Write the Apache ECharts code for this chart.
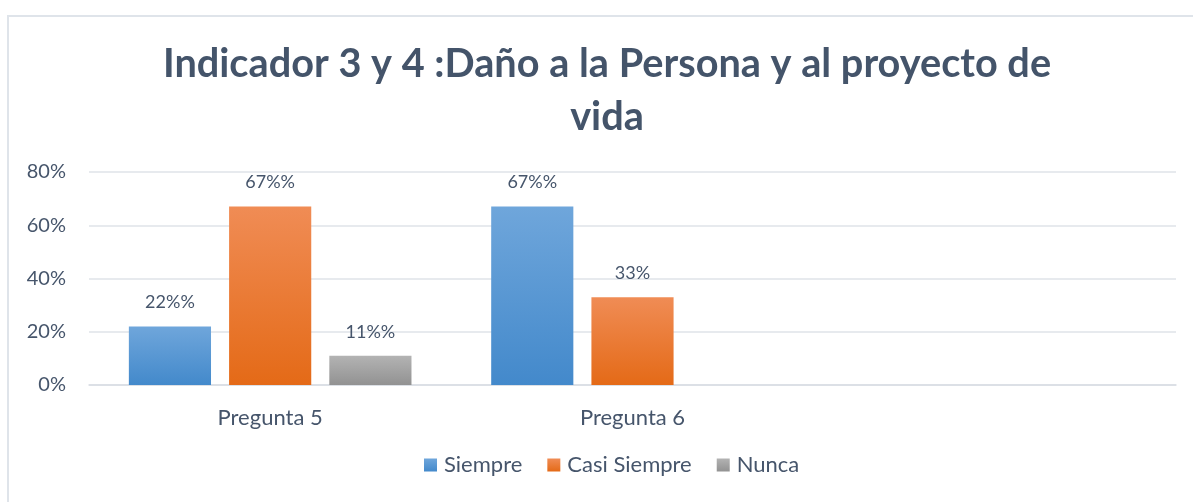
<!DOCTYPE html>
<html>
<head>
<meta charset="utf-8">
<script src="https://cdn.jsdelivr.net/npm/echarts@6/dist/echarts.min.js"></script>
<style>
  html, body { margin: 0; padding: 0; background: #fff; }
  #chart { width: 1193px; height: 502px; }
</style>
</head>
<body>
<div id="chart"></div>
<script>
const categories = ["Pregunta 5", "Pregunta 6", ""];
const siempre = [22, 67, null];
const casiSiempre = [67, 33, null];
const nunca = [11, null, null];
const siempreLabels = ["22%%", "67%%", ""];
const casiSiempreLabels = ["67%%", "33%", ""];
const nuncaLabels = ["11%%", "", ""];
const yTicks = [0, 20, 40, 60, 80];

const textColor = "#46556b";
const fontFamily = "Lato, 'Open Sans', sans-serif";

const grad = (top, bottom) =>
  new echarts.graphic.LinearGradient(0, 0, 0, 1, [
    { offset: 0, color: top },
    { offset: 1, color: bottom },
  ]);

const makeSeries = (name, data, labels, color) => ({
  name,
  type: "bar",
  data,
  barGap: "22%",
  barCategoryGap: "22%",
  itemStyle: { color },
  label: {
    show: true,
    position: "top",
    distance: 15,
    color: textColor,
    fontSize: 18,
    fontFamily,
    formatter: (p) => labels[p.dataIndex],
  },
});

const chart = echarts.init(document.getElementById("chart"));

chart.setOption({
  backgroundColor: "#fff",
  animation: false,
  graphic: [
    {
      type: "rect",
      shape: { x: 8, y: 16, width: 1400, height: 700 },
      style: { fill: "none", stroke: "#dfe4ea", lineWidth: 2 },
      silent: true,
    },
  ],
  title: {
    text: "Indicador 3 y 4 :Daño a la Persona y al proyecto de\nvida",
    left: 602,
    top: 33,
    textAlign: "center",
    textStyle: {
      color: "#44546a",
      fontSize: 39.7,
      fontWeight: "bold",
      fontFamily,
      lineHeight: 53,
    },
  },
  legend: {
    bottom: 21,
    left: 419,
    icon: "rect",
    itemWidth: 13,
    itemHeight: 13,
    itemGap: 25,
    itemStyle: { borderWidth: 0 },
    textStyle: { color: textColor, fontSize: 22, fontFamily, padding: [0, 0, 0, 2] },
    data: ["Siempre", "Casi Siempre", "Nunca"],
  },
  grid: {
    left: 89,
    right: 17,
    top: 172,
    bottom: 117,
  },
  xAxis: {
    type: "category",
    data: categories,
    axisLine: { lineStyle: { color: "#d9dde3", width: 1.5 } },
    axisTick: { show: false },
    axisLabel: { color: textColor, fontSize: 22, fontFamily, margin: 22 },
  },
  yAxis: {
    type: "value",
    min: yTicks[0],
    max: yTicks[yTicks.length - 1],
    interval: yTicks[1] - yTicks[0],
    axisLine: { show: false },
    axisTick: { show: false },
    splitLine: { lineStyle: { color: "#dfe3e8", width: 1.5 } },
    axisLabel: {
      color: textColor,
      fontSize: 20,
      fontFamily,
      margin: 23,
      formatter: "{value}%",
    },
  },
  series: [
    makeSeries("Siempre", siempre, siempreLabels, grad("#6fa6db", "#4389cb")),
    makeSeries("Casi Siempre", casiSiempre, casiSiempreLabels, grad("#f08c55", "#e46a17")),
    makeSeries("Nunca", nunca, nuncaLabels, grad("#b3b3b3", "#929292")),
  ],
});
</script>
</body>
</html>
